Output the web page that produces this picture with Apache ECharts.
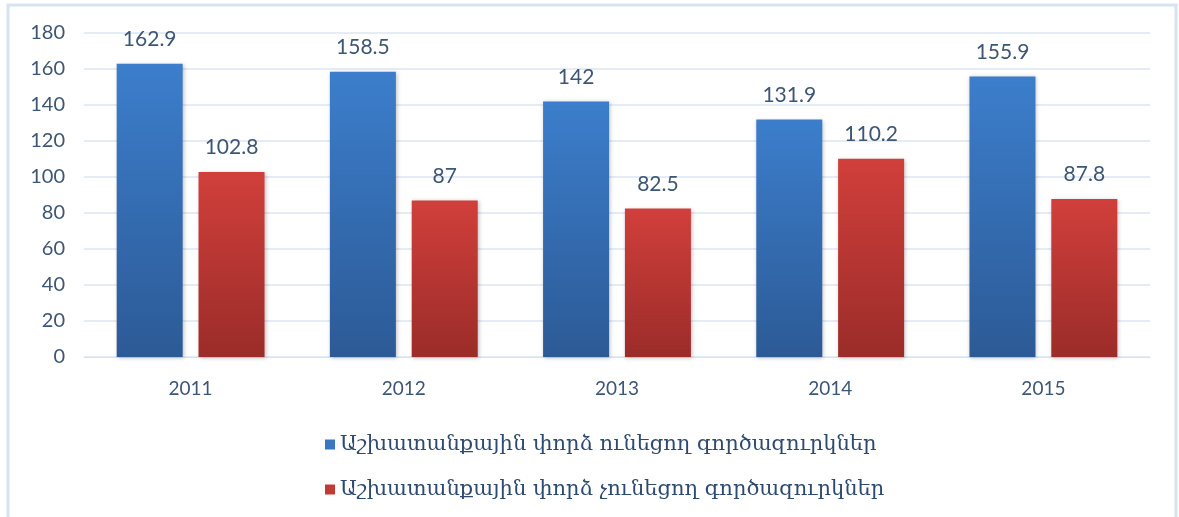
<!DOCTYPE html>
<html>
<head>
<meta charset="utf-8">
<script src="https://cdn.jsdelivr.net/npm/echarts@6/dist/echarts.min.js"></script>
<style>
  html, body { margin: 0; padding: 0; background: #fff; }
  #chart { width: 1179px; height: 517px; }
</style>
</head>
<body>
<div id="chart"></div>
<script>
var years = ['2011', '2012', '2013', '2014', '2015'];
var withExperience = [162.9, 158.5, 142, 131.9, 155.9];
var withoutExperience = [102.8, 87, 82.5, 110.2, 87.8];
var seriesNames = [
  'Աշխատանքային փորձ ունեցող գործազուրկներ',
  'Աշխատանքային փորձ չունեցող գործազուրկներ'
];

var dom = document.getElementById('chart');
var myChart = echarts.init(dom);

function grad(top, bottom) {
  return new echarts.graphic.LinearGradient(0, 0, 0, 1, [
    { offset: 0, color: top },
    { offset: 1, color: bottom }
  ]);
}

var labelStyle = {
  show: true,
  position: 'top',
  distance: 14,
  color: '#3E5675',
  fontFamily: 'Lato',
  fontSize: 21
};

var option = {
  backgroundColor: '#fff',
  animation: false,
  graphic: [{
    type: 'rect',
    shape: { x: 8, y: 5, width: 1168, height: 530 },
    style: { fill: 'none', stroke: '#D6E3F1', lineWidth: 3 },
    silent: true
  }],
  grid: { left: 84, right: 29, top: 33, bottom: 160 },
  legend: {
    orient: 'vertical',
    left: 320,
    top: 429,
    itemWidth: 10,
    itemHeight: 10,
    itemGap: 24,
    icon: 'rect',
    textStyle: { color: '#2E4A70', fontFamily: 'DejaVu Serif', fontSize: 21 },
    data: [
      { name: seriesNames[0], itemStyle: { color: '#3A76C2' } },
      { name: seriesNames[1], itemStyle: { color: '#C23A36' } }
    ]
  },
  xAxis: {
    type: 'category',
    data: years,
    axisTick: { show: false },
    axisLine: { lineStyle: { color: '#D9E3EF' } },
    axisLabel: { color: '#3E5675', fontFamily: 'Lato', fontSize: 19, margin: 22 }
  },
  yAxis: {
    type: 'value',
    min: 0,
    max: 180,
    interval: 20,
    axisTick: { show: false },
    axisLine: { show: false },
    axisLabel: { color: '#3E5675', fontFamily: 'Lato', fontSize: 20, margin: 19 },
    splitLine: { lineStyle: { color: '#DCE6F2', width: 1.5 } }
  },
  series: [
    {
      name: seriesNames[0],
      type: 'bar',
      data: withExperience,
      barWidth: 66,
      barGap: '24%',
      itemStyle: {
        color: grad('#3C7ECC', '#2C5A96'),
        shadowColor: 'rgba(0,0,0,0.25)',
        shadowBlur: 4,
        shadowOffsetX: 1,
        shadowOffsetY: 1
      },
      label: labelStyle
    },
    {
      name: seriesNames[1],
      type: 'bar',
      data: withoutExperience,
      barWidth: 66,
      itemStyle: {
        color: grad('#D13F3B', '#9B2C29'),
        shadowColor: 'rgba(0,0,0,0.25)',
        shadowBlur: 4,
        shadowOffsetX: 1,
        shadowOffsetY: 1
      },
      label: labelStyle
    }
  ]
};

if (option && typeof option === 'object') {
  myChart.setOption(option, true);
}
</script>
</body>
</html>
